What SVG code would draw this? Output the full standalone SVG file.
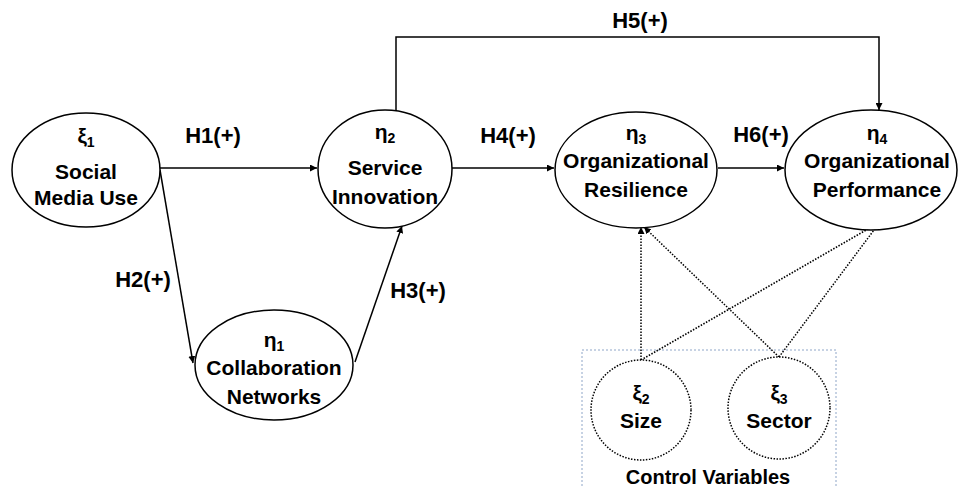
<svg xmlns="http://www.w3.org/2000/svg" width="960" height="487" viewBox="0 0 960 487">
<style>
text{font-family:"Liberation Sans",Arial,sans-serif;font-weight:bold;font-size:21px;fill:#000;text-anchor:middle}
.lbl{font-size:22px}
.sub{font-size:14px}
.node{fill:#fff;stroke:#000;stroke-width:1.5}
.ctl{fill:#fff;stroke:#000;stroke-width:1.5;stroke-dasharray:1.5 1.5}
.edge{fill:none;stroke:#000;stroke-width:1.5}
.dot{fill:none;stroke:#000;stroke-width:1.5;stroke-dasharray:1.5 1.5}
</style>
<defs>
<marker id="ah" viewBox="0 0 10 10" refX="10" refY="5" markerWidth="7" markerHeight="7" markerUnits="userSpaceOnUse" orient="auto"><path d="M0,0 L10,5 L0,10 z" fill="#000"/></marker>
</defs>
<rect width="960" height="487" fill="#fff"/>
<rect x="582" y="350" width="254" height="150" fill="none" stroke="#8fa6c8" stroke-width="1" stroke-dasharray="2 2"/>
<g id="connectors">
<line class="edge" x1="160" y1="168" x2="317" y2="168" marker-end="url(#ah)"/>
<line class="edge" x1="160" y1="170" x2="193" y2="363" marker-end="url(#ah)"/>
<line class="edge" x1="355" y1="362" x2="402" y2="226" marker-end="url(#ah)"/>
<line class="edge" x1="452" y1="168" x2="554" y2="168" marker-end="url(#ah)"/>
<line class="edge" x1="718" y1="168" x2="784" y2="168" marker-end="url(#ah)"/>
<polyline class="edge" points="396,110 396,37 879,37 879,110" marker-end="url(#ah)"/>
<line class="dot" x1="641" y1="360" x2="641" y2="227" marker-end="url(#ah)"/>
<line class="dot" x1="641" y1="360" x2="880" y2="222" marker-end="url(#ah)"/>
<line class="dot" x1="779" y1="357" x2="644" y2="227" marker-end="url(#ah)"/>
<line class="dot" x1="779" y1="357" x2="880" y2="222" marker-end="url(#ah)"/>
</g>
<g id="labels">
<text class="lbl" x="213" y="143">H1(+)</text>
<text class="lbl" x="143" y="287">H2(+)</text>
<text class="lbl" x="418" y="298">H3(+)</text>
<text class="lbl" x="508" y="143">H4(+)</text>
<text class="lbl" x="640" y="28">H5(+)</text>
<text class="lbl" x="761" y="142">H6(+)</text>
</g>
<g id="xi1">
<ellipse class="node" cx="86" cy="170" rx="74" ry="57"/>
<text x="86" y="143">ξ<tspan class="sub" dy="4">1</tspan></text>
<text x="86" y="179">Social</text>
<text x="86" y="205">Media Use</text>
</g>
<g id="eta2">
<ellipse class="node" cx="385" cy="169" rx="67" ry="59"/>
<text x="385" y="139">η<tspan class="sub" dy="4">2</tspan></text>
<text x="385" y="175">Service</text>
<text x="385" y="204">Innovation</text>
</g>
<g id="eta3">
<ellipse class="node" cx="636" cy="170" rx="81" ry="58"/>
<text x="636" y="140">η<tspan class="sub" dy="4">3</tspan></text>
<text x="636" y="168">Organizational</text>
<text x="636" y="197">Resilience</text>
</g>
<g id="eta4">
<ellipse class="node" cx="871" cy="170" rx="86" ry="60"/>
<text x="877" y="140">η<tspan class="sub" dy="4">4</tspan></text>
<text x="877" y="168">Organizational</text>
<text x="877" y="197">Performance</text>
</g>
<g id="eta1">
<ellipse class="node" cx="274" cy="365" rx="79" ry="55"/>
<text x="274" y="347">η<tspan class="sub" dy="4">1</tspan></text>
<text x="274" y="375">Collaboration</text>
<text x="274" y="404">Networks</text>
</g>
<g id="xi2">
<circle class="ctl" cx="641" cy="410" r="50"/>
<text x="641" y="400">ξ<tspan class="sub" dy="4">2</tspan></text>
<text x="641" y="428">Size</text>
</g>
<g id="xi3">
<circle class="ctl" cx="779" cy="408" r="51"/>
<text x="779" y="400">ξ<tspan class="sub" dy="4">3</tspan></text>
<text x="779" y="428">Sector</text>
</g>
<g id="control">
<text x="708" y="484" style="font-size:20px">Control Variables</text>
</g>
</svg>
